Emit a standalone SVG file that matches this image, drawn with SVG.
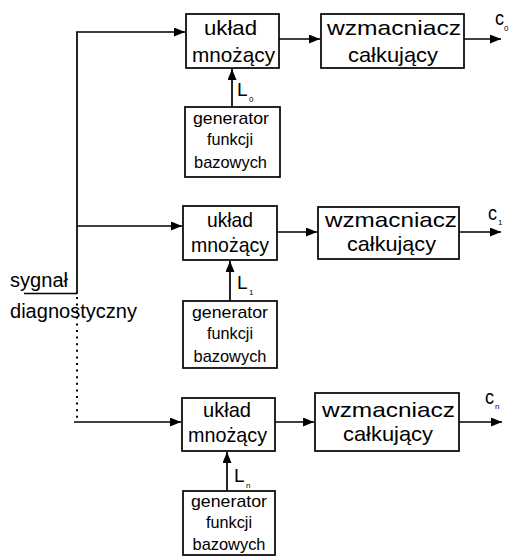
<svg xmlns="http://www.w3.org/2000/svg" width="509" height="556" viewBox="0 0 509 556">
<style>
.box{fill:#fff;stroke:#000;stroke-width:1.7}
.ln{fill:none;stroke:#000;stroke-width:1.7}
.dot{fill:none;stroke:#000;stroke-width:2;stroke-dasharray:2 4.6}
text{font-family:"Liberation Sans",Arial,sans-serif;fill:#000}
.t1{font-size:21px;text-anchor:middle}
.t2{font-size:17px;text-anchor:middle}
.lab{font-size:20px}
.L{font-size:19px}
.c{font-size:21px}
.sub{font-size:8px}
</style>
<defs>
<marker id="ah" markerUnits="userSpaceOnUse" markerWidth="12" markerHeight="10" refX="11" refY="4.5" orient="auto">
<path d="M0,0 L11,4.5 L0,9 Z" fill="#000"/>
</marker>
</defs>
<rect width="509" height="556" fill="#fff"/>
<g id="connectors">
<path class="ln" d="M77,294 V32 H185" marker-end="url(#ah)"/>
<path class="ln" d="M77,226 H182" marker-end="url(#ah)"/>
<path class="ln" d="M24,293.5 H77"/>
<path class="dot" d="M77,297 V420"/>
<path class="ln" d="M74,422 H181" marker-end="url(#ah)"/>
<path class="ln" d="M279,39 H320" marker-end="url(#ah)"/>
<path class="ln" d="M277,232 H317" marker-end="url(#ah)"/>
<path class="ln" d="M275,422 H314" marker-end="url(#ah)"/>
<path class="ln" d="M464,39 H501" marker-end="url(#ah)"/>
<path class="ln" d="M459,232 H501" marker-end="url(#ah)"/>
<path class="ln" d="M459,422 H502" marker-end="url(#ah)"/>
<path class="ln" d="M232,107 V69" marker-end="url(#ah)"/>
<path class="ln" d="M230,301 V261" marker-end="url(#ah)"/>
<path class="ln" d="M227,491 V452" marker-end="url(#ah)"/>
</g>
<g id="input-label">
<text class="lab" x="10" y="287" textLength="58" lengthAdjust="spacingAndGlyphs">sygnał</text>
<text class="lab" x="10" y="318" textLength="127" lengthAdjust="spacingAndGlyphs">diagnostyczny</text>
</g>
<g id="mult0">
<rect class="box" x="186" y="14" width="93" height="54"/>
<text class="t1" x="230.5" y="35" textLength="53" lengthAdjust="spacingAndGlyphs">układ</text>
<text class="t1" x="233.5" y="61.5" textLength="83" lengthAdjust="spacingAndGlyphs">mnożący</text>
</g>
<g id="int0">
<rect class="box" x="321" y="14" width="143" height="54"/>
<text class="t1" x="394" y="35" textLength="134" lengthAdjust="spacingAndGlyphs">wzmacniacz</text>
<text class="t1" x="393" y="61.5" textLength="90" lengthAdjust="spacingAndGlyphs">całkujący</text>
</g>
<g id="gen0">
<rect class="box" x="185" y="107" width="95" height="70"/>
<text class="t2" x="231" y="124" textLength="76" lengthAdjust="spacingAndGlyphs">generator</text>
<text class="t2" x="230" y="145" textLength="46" lengthAdjust="spacingAndGlyphs">funkcji</text>
<text class="t2" x="230.5" y="168" textLength="73" lengthAdjust="spacingAndGlyphs">bazowych</text>
</g>
<g id="label-L0">
<text class="L" x="237" y="96">L</text><text class="sub" x="249" y="102">0</text>
</g>
<g id="label-c0">
<text class="c" x="495" y="25" textLength="9" lengthAdjust="spacingAndGlyphs">c</text><text class="sub" x="504" y="31">0</text>
</g>
<g id="mult1">
<rect class="box" x="183" y="206" width="94" height="54"/>
<text class="t1" x="230" y="227" textLength="46" lengthAdjust="spacingAndGlyphs">układ</text>
<text class="t1" x="230" y="252" textLength="78" lengthAdjust="spacingAndGlyphs">mnożący</text>
</g>
<g id="int1">
<rect class="box" x="318" y="207" width="141" height="52"/>
<text class="t1" x="391" y="227" textLength="132" lengthAdjust="spacingAndGlyphs">wzmacniacz</text>
<text class="t1" x="391.5" y="251" textLength="89" lengthAdjust="spacingAndGlyphs">całkujący</text>
</g>
<g id="gen1">
<rect class="box" x="183" y="301" width="94" height="67"/>
<text class="t2" x="230" y="318" textLength="76" lengthAdjust="spacingAndGlyphs">generator</text>
<text class="t2" x="230" y="339" textLength="46" lengthAdjust="spacingAndGlyphs">funkcji</text>
<text class="t2" x="230" y="362" textLength="73" lengthAdjust="spacingAndGlyphs">bazowych</text>
</g>
<g id="label-L1">
<text class="L" x="237" y="289">L</text><text class="sub" x="249" y="295">1</text>
</g>
<g id="label-c1">
<text class="c" x="488" y="220" textLength="9" lengthAdjust="spacingAndGlyphs">c</text><text class="sub" x="498" y="225">1</text>
</g>
<g id="multn">
<rect class="box" x="182" y="398" width="93" height="53"/>
<text class="t1" x="227" y="417" textLength="48" lengthAdjust="spacingAndGlyphs">układ</text>
<text class="t1" x="227.5" y="442" textLength="79" lengthAdjust="spacingAndGlyphs">mnożący</text>
</g>
<g id="intn">
<rect class="box" x="315" y="393" width="144" height="58"/>
<text class="t1" x="388.5" y="417" textLength="133" lengthAdjust="spacingAndGlyphs">wzmacniacz</text>
<text class="t1" x="388" y="441" textLength="90" lengthAdjust="spacingAndGlyphs">całkujący</text>
</g>
<g id="genn">
<rect class="box" x="183" y="491" width="92" height="64"/>
<text class="t2" x="229" y="507" textLength="76" lengthAdjust="spacingAndGlyphs">generator</text>
<text class="t2" x="229" y="528" textLength="46" lengthAdjust="spacingAndGlyphs">funkcji</text>
<text class="t2" x="229" y="550" textLength="73" lengthAdjust="spacingAndGlyphs">bazowych</text>
</g>
<g id="label-Ln">
<text class="L" x="234" y="482">L</text><text class="sub" x="246" y="488">n</text>
</g>
<g id="label-cn">
<text class="c" x="485" y="404" textLength="9" lengthAdjust="spacingAndGlyphs">c</text><text class="sub" x="495" y="409">n</text>
</g>
</svg>
